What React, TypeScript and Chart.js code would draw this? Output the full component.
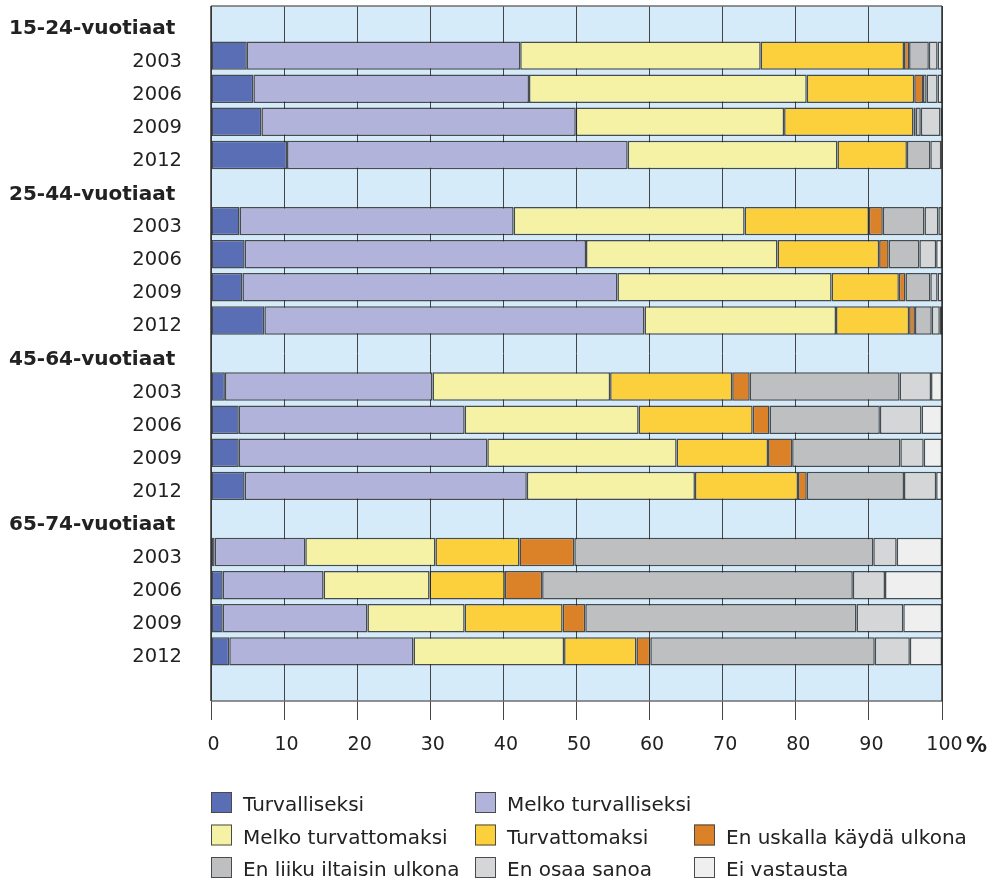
import React, { useEffect, useRef } from "react";
import { Chart, registerables } from "chart.js";

Chart.register(...registerables);

const categories = [
  "15-24-vuotiaat", "2003", "2006", "2009", "2012",
  "25-44-vuotiaat", "2003", "2006", "2009", "2012",
  "45-64-vuotiaat", "2003", "2006", "2009", "2012",
  "65-74-vuotiaat", "2003", "2006", "2009", "2012",
  "",
];

const turvalliseksi = [null, 4.9, 5.8, 6.9, 10.4, null, 3.9, 4.6, 4.3, 7.3, null, 1.9, 3.8, 3.8, 4.6, null, 0.5, 1.6, 1.6, 2.5, null];
const melkoTurvalliseksi = [null, 37.4, 37.7, 43.0, 46.6, null, 37.5, 46.7, 51.3, 52.0, null, 28.4, 30.9, 34.0, 38.6, null, 12.4, 13.8, 19.8, 25.2, null];
const melkoTurvattomaksi = [null, 32.9, 38.0, 28.5, 28.7, null, 31.6, 26.2, 29.3, 26.2, null, 24.3, 23.8, 25.9, 23.0, null, 17.8, 14.5, 13.3, 20.6, null];
const turvattomaksi = [null, 19.6, 14.7, 17.7, 9.5, null, 17.0, 13.9, 9.2, 10.0, null, 16.7, 15.6, 12.5, 14.1, null, 11.5, 10.3, 13.4, 9.9, null];
const enUskalla = [null, 0.7, 1.2, 0.3, null, null, 1.9, 1.3, 0.9, 0.8, null, 2.4, 2.3, 3.3, 1.2, null, 7.5, 5.1, 3.1, 1.9, null];
const enLiiku = [null, 2.7, 0.5, 0.7, 3.2, null, 5.7, 4.2, 3.4, 2.3, null, 20.5, 15.1, 14.8, 13.3, null, 40.9, 42.5, 37.1, 30.7, null];
const enOsaa = [null, 1.2, 1.5, 2.7, 1.5, null, 1.9, 2.3, 1.0, 1.1, null, 4.3, 5.7, 3.2, 4.4, null, 3.2, 4.4, 6.4, 4.8, null];
const eiVastausta = [null, 0.6, 0.6, 0.2, 0.1, null, 0.5, 0.8, 0.6, 0.3, null, 1.5, 2.8, 2.5, 0.8, null, 6.2, 7.8, 5.3, 4.4, null];

const seriesLabels = [
  "Turvalliseksi",
  "Melko turvalliseksi",
  "Melko turvattomaksi",
  "Turvattomaksi",
  "En uskalla käydä ulkona",
  "En liiku iltaisin ulkona",
  "En osaa sanoa",
  "Ei vastausta",
];
const seriesValues = [turvalliseksi, melkoTurvalliseksi, melkoTurvattomaksi, turvattomaksi, enUskalla, enLiiku, enOsaa, eiVastausta];
const seriesColors = ["#5a6eb5", "#b1b3da", "#f5f1a5", "#fbd03c", "#db8127", "#bebfc1", "#d5d6d8", "#eeefee"];

const xTicks = [0, 10, 20, 30, 40, 50, 60, 70, 80, 90, 100];
const unitLabel = "%";

const FONT = "'DejaVu Sans', Verdana, sans-serif";
const TEXT = "#222222";

const plotBackground = {
  id: "plotBackground",
  beforeDraw(chart: any) {
    const { ctx, chartArea: a } = chart;
    ctx.save();
    ctx.fillStyle = "#d5ebf9";
    ctx.fillRect(a.left, a.top, a.right - a.left, a.bottom - a.top);
    ctx.restore();
  },
  beforeDatasetsDraw(chart: any) {
    const { ctx, chartArea: a } = chart;
    ctx.save();
    ctx.strokeStyle = "#6f6f6f";
    ctx.lineWidth = 1.5;
    ctx.beginPath();
    ctx.moveTo(a.left, a.top);
    ctx.lineTo(a.right, a.top);
    ctx.moveTo(a.left, a.bottom);
    ctx.lineTo(a.right, a.bottom);
    ctx.stroke();
    ctx.strokeStyle = "#333333";
    ctx.lineWidth = 1.5;
    ctx.beginPath();
    ctx.moveTo(a.left, a.top);
    ctx.lineTo(a.left, a.bottom);
    ctx.moveTo(a.right, a.top);
    ctx.lineTo(a.right, a.bottom);
    ctx.stroke();
    ctx.restore();
  },
};

const rowLabels = {
  id: "rowLabels",
  afterDraw(chart: any) {
    const { ctx } = chart;
    const y = chart.scales.y;
    const x = chart.scales.x;
    ctx.save();
    ctx.fillStyle = TEXT;
    ctx.textBaseline = "alphabetic";
    categories.forEach((label, i) => {
      if (!label) return;
      const py = y.getPixelForValue(i) + 11;
      if (label.includes("vuotiaat")) {
        ctx.font = `bold 20px ${FONT}`;
        ctx.textAlign = "left";
        ctx.fillText(label, 9, py + 0.5);
      } else {
        ctx.font = `19.5px ${FONT}`;
        ctx.textAlign = "right";
        ctx.fillText(label, 182, py);
      }
    });
    // unit label after the last tick
    ctx.font = `bold 21px ${FONT}`;
    ctx.textAlign = "left";
    ctx.fillText(unitLabel, x.getPixelForValue(100) + 24, 752);
    ctx.restore();
  },
};

const gridLegend = {
  id: "gridLegend",
  afterDraw(chart: any) {
    const { ctx } = chart;
    const cols = [211, 475, 694];
    const rows = [792, 824.5, 857];
    const placement = [
      [0, 0], [1, 0],
      [0, 1], [1, 1], [2, 1],
      [0, 2], [1, 2], [2, 2],
    ];
    ctx.save();
    chart.data.datasets.forEach((ds: any, i: number) => {
      const [c, r] = placement[i];
      const sx = cols[c];
      const sy = rows[r];
      ctx.fillStyle = ds.backgroundColor;
      ctx.fillRect(sx, sy, 21, 21);
      ctx.strokeStyle = "#4a4a4a";
      ctx.lineWidth = 1;
      ctx.strokeRect(sx + 0.5, sy + 0.5, 20, 20);
      ctx.fillStyle = TEXT;
      ctx.font = `20px ${FONT}`;
      ctx.textAlign = "left";
      ctx.textBaseline = "alphabetic";
      ctx.fillText(ds.label, sx + 32, sy + 19);
    });
    ctx.restore();
  },
};

export default function App() {
  const canvasRef = useRef<HTMLCanvasElement | null>(null);

  useEffect(() => {
    if (!canvasRef.current) return;
    const chart = new Chart(canvasRef.current, {
      type: "bar",
      data: {
        labels: categories,
        datasets: seriesLabels.map((label, i) => ({
          label,
          data: seriesValues[i],
          backgroundColor: seriesColors[i],
          borderColor: "rgba(35,35,35,0.8)",
          borderWidth: 1.5,
          borderSkipped: false,
          barPercentage: 0.86,
          categoryPercentage: 1,
        })),
      },
      options: {
        indexAxis: "y",
        responsive: false,
        animation: false,
        layout: { padding: { left: 211, right: 57, top: 6, bottom: 0 } },
        plugins: {
          legend: { display: false },
          tooltip: { enabled: false },
        },
        scales: {
          x: {
            stacked: true,
            min: 0,
            max: 100,
            afterBuildTicks: (scale: any) => {
              scale.ticks = xTicks.map((v) => ({ value: v }));
            },
            afterFit: (scale: any) => {
              scale.height = 179;
            },
            ticks: {
              font: { family: FONT, size: 19 },
              color: TEXT,
              padding: 14,
              labelOffset: 2.5,
              maxRotation: 0,
              autoSkip: false,
            },
            grid: {
              color: "#444444",
              lineWidth: 1,
              tickLength: 19,
              drawOnChartArea: true,
            },
            border: { display: false },
          },
          y: {
            stacked: true,
            display: false,
          },
        },
      },
      plugins: [plotBackground, rowLabels, gridLegend],
    });
    return () => chart.destroy();
  }, []);

  return (
    <div style={{ position: "absolute", left: 0, top: 0, width: 999, height: 880 }}>
      <canvas ref={canvasRef} width={999} height={880} style={{ display: "block" }} />
    </div>
  );
}
